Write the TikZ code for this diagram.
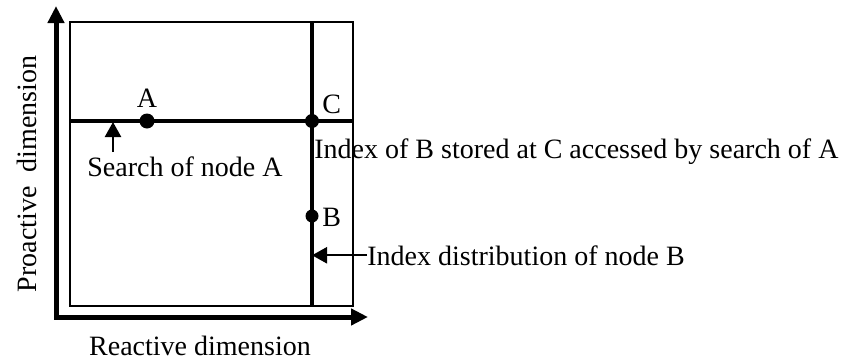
\documentclass[tikz,border=0pt]{standalone}
\usepackage{fontspec}
\setmainfont{Liberation Serif}
\usetikzlibrary{arrows.meta,positioning}

\tikzset{
  axis/.style={line width=2.5pt,line join=miter,{Triangle[length=8.5pt,width=8pt]}-{Triangle[length=8.5pt,width=8pt]}},
  frame/.style={line width=0.75pt},
  route/.style={line width=1.8pt},
  pointer/.style={line width=1.2pt,-{Triangle[length=7.5pt,width=8pt]}},
  dot/.style={circle,fill,inner sep=0pt,minimum size=#1},
  lbl/.style={inner sep=0pt,font=\fontsize{14}{16}\selectfont},
}

\begin{document}
\begin{tikzpicture}[x=0.5pt,y=-0.5pt]
  \useasboundingbox (0,0) rectangle (846,359);
  % axes
  \coordinate (ytip) at (56,6);
  \coordinate (origin) at (56,317);
  \coordinate (xtip) at (368,317);
  \draw[axis] (ytip) -- (origin) -- (xtip);
  \node[lbl,anchor=base] (xlbl) at (200,355) {Reactive dimension};
  \node[lbl,anchor=base,rotate=90] (ylbl) at (36,174) {Proactive\hspace{0.5em}dimension};
  % space and the two lines
  \coordinate (nw) at (70,22);
  \coordinate (se) at (353,306);
  \draw[frame] (nw) rectangle (se);
  \coordinate (rowW) at (70,121);
  \coordinate (rowE) at (353,121);
  \coordinate (colN) at (312,21);
  \coordinate (colS) at (312,307);
  \draw[route] (rowW) -- (rowE);
  \draw[route] (colN) -- (colS);
  % nodes
  \node[dot=7.5pt] (dotA) at (147,121) {};
  \node[dot=7pt] (dotC) at (312,121) {};
  \node[dot=6.5pt] (dotB) at (312,216) {};
  \node[lbl,above=2.75pt of dotA] (labA) {A};
  \node[lbl,anchor=base west] (labC) at (322,113) {C};
  \node[lbl,anchor=base west] (labB) at (322,226) {B};
  % search of A
  \node[lbl,anchor=base west] (searchlbl) at (87,176) {Search of node A};
  \coordinate (searchtail) at (113,152);
  \coordinate (searchhit) at (113,122);
  \draw[pointer] (searchtail) -- (searchhit);
  \node[lbl,anchor=base west] (indexlbl) at (314,158) {Index of B stored at C accessed by search of A};
  % index distribution of B
  \node[lbl,anchor=base west] (distlbl) at (367,265) {Index distribution of node B};
  \draw[pointer] (distlbl.west) -- (distlbl.west -| colS);
\end{tikzpicture}
\end{document}
